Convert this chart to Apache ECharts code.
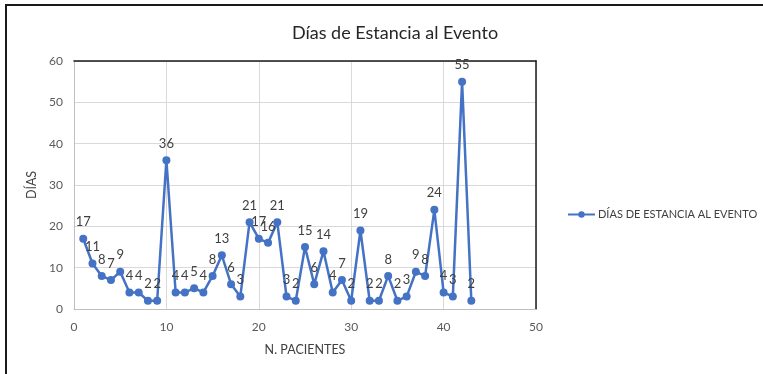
<!DOCTYPE html>
<html>
<head>
<meta charset="utf-8">
<script src="https://cdn.jsdelivr.net/npm/echarts@6/dist/echarts.min.js"></script>
<style>
  html, body { margin: 0; padding: 0; background: #fff; }
  #chart { width: 763px; height: 374px; }
</style>
</head>
<body>
<div id="chart"></div>
<script>
// N. pacientes 1..43 y sus días de estancia
const pacientes = [];
for (let i = 1; i <= 43; i++) pacientes.push(i);
const dias = [17, 11, 8, 7, 9, 4, 4, 2, 2, 36, 4, 4, 5, 4, 8, 13, 6, 3, 21, 17, 16, 21, 3, 2,
              15, 6, 14, 4, 7, 2, 19, 2, 2, 8, 2, 3, 9, 8, 24, 4, 3, 55, 2];
const serieNombre = 'DÍAS DE ESTANCIA AL EVENTO';

const font = 'Lato, "Open Sans", sans-serif';
const chart = echarts.init(document.getElementById('chart'), null, { renderer: 'canvas' });

const puntos = pacientes.map((p, i) => [p, dias[i]]);

const option = {
  backgroundColor: '#fff',
  animation: false,
  textStyle: { fontFamily: font },
  title: {
    text: 'Días de Estancia al Evento',
    left: 390, top: 19, textAlign: 'center',
    textStyle: { fontSize: 18, fontWeight: 'normal', color: '#262626', fontFamily: font }
  },
  legend: {
    data: [serieNombre],
    orient: 'vertical',
    left: 562, top: 204,
    itemWidth: 27, itemHeight: 8,
    textStyle: { fontSize: 11, color: '#404040', fontFamily: font, padding: [0, 0, 0, -2] }
  },
  grid: { left: 74, right: 227, top: 61, bottom: 65 },
  xAxis: [{
    type: 'value', min: 0, max: 50, interval: 10,
    name: 'N. PACIENTES', nameLocation: 'middle', nameGap: 34,
    nameTextStyle: { fontSize: 12.5, color: '#404040' },
    axisLine: { show: true, lineStyle: { color: '#bfbfbf', width: 1 } },
    axisTick: { show: false },
    axisLabel: { fontSize: 12, color: '#595959', margin: 12 },
    splitLine: { show: true, lineStyle: { color: '#d9d9d9', width: 1 } }
  }, {
    type: 'value', min: 0, max: 50, position: 'top',
    axisLine: { show: true, onZero: false, lineStyle: { color: '#1a1a1a', width: 1.5 } },
    axisTick: { show: false }, axisLabel: { show: false }, splitLine: { show: false }
  }],
  yAxis: [{
    type: 'value', min: 0, max: 60, interval: 10,
    name: 'DÍAS', nameLocation: 'middle', nameGap: 27, nameRotate: 90,
    nameTextStyle: { fontSize: 12.5, color: '#404040' },
    axisLine: { show: true, lineStyle: { color: '#bfbfbf', width: 1 } },
    axisTick: { show: false },
    axisLabel: { fontSize: 12, color: '#595959', margin: 11 },
    splitLine: { show: true, lineStyle: { color: '#d9d9d9', width: 1 } }
  }, {
    type: 'value', min: 0, max: 60, position: 'right',
    axisLine: { show: true, onZero: false, lineStyle: { color: '#1a1a1a', width: 1.5 } },
    axisTick: { show: false }, axisLabel: { show: false }, splitLine: { show: false }
  }],
  series: [{
    name: serieNombre,
    type: 'line',
    data: puntos,
    symbol: 'circle',
    symbolSize: 8,
    itemStyle: { color: '#4472C4' },
    lineStyle: { color: '#4472C4', width: 2.5 },
    label: {
      show: true, position: 'top', distance: 6,
      fontSize: 13, color: '#404040', fontFamily: font,
      formatter: p => p.value[1]
    },
    labelLayout: { hideOverlap: false }
  }],
  graphic: [{
    type: 'polyline',
    shape: { points: [[6, 374], [6, 5], [763, 5]] },
    style: { stroke: '#1a1a1a', lineWidth: 2, fill: null },
    silent: true
  }]
};

chart.setOption(option);
</script>
</body>
</html>
